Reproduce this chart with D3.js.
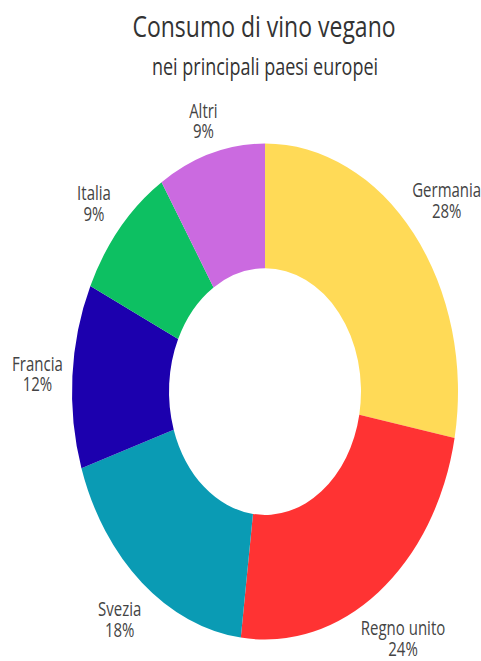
<!DOCTYPE html>
<html>
<head>
<meta charset="utf-8">
<script src="https://cdn.jsdelivr.net/npm/d3@7"></script>
<style>
  body { margin: 0; background: #fff; }
  svg { display: block; }
</style>
</head>
<body>
<div id="donut"></div>
<script>
const countries = ["Germania", "Regno unito", "Svezia", "Francia", "Italia", "Altri"];
const shares = [28, 24, 18, 12, 9, 9];
const palette = ["#FFDA57", "#FF3333", "#0A9BB4", "#1C00AE", "#0DC062", "#CB6AE0"];

const W = 481, H = 661;
// the reference is stretched vertically, so the whole drawing is scaled on y
const sy = 1.285;
const cx = 265, cy = 304.7,
    outerR = 193, innerR = 96, labelR = 228;

// small hand nudges for the outside labels (unscaled px)
const nudge = {
    "Germania": [6, -3],
    "Regno unito": [4, 8],
    "Svezia": [0, 2],
    "Francia": [0, 1],
    "Italia": [0, 5],
    "Altri": [2, 9]
};

const data = countries.map((c, i) => ({ name: c, value: shares[i], color: palette[i] }));

const svg = d3.select("#donut")
    .append("svg")
    .attr("width", W)
    .attr("height", H);

const g = svg.append("g")
    .attr("transform", `scale(1,${sy})`)
    .style("font-family", "'Open Sans', sans-serif");

g.append("text")
    .attr("x", 264)
    .attr("y", 29)
    .attr("text-anchor", "middle")
    .attr("fill", "#333")
    .style("font-size", "23px")
    .text("Consumo di vino vegano");

g.append("text")
    .attr("x", 265)
    .attr("y", 58)
    .attr("text-anchor", "middle")
    .attr("fill", "#333")
    .style("font-size", "18px")
    .text("nei principali paesi europei");

const pie = d3.pie().value(d => d.value).sort(null);
const arc = d3.arc().innerRadius(innerR).outerRadius(outerR);
const arcs = pie(data);

const chart = g.append("g")
    .attr("transform", `translate(${cx},${cy})`);

chart.selectAll("path")
    .data(arcs)
    .enter()
    .append("path")
    .attr("d", arc)
    .attr("fill", d => d.data.color);

const labels = chart.selectAll(".lbl")
    .data(arcs)
    .enter()
    .append("text")
    .attr("class", "lbl")
    .attr("text-anchor", "middle")
    .attr("fill", "#444")
    .style("font-size", "15px")
    .attr("transform", d => {
        const a = (d.startAngle + d.endAngle) / 2;
        const n = nudge[d.data.name] || [0, 0];
        return `translate(${labelR * Math.sin(a) + n[0]},${-labelR * Math.cos(a) + n[1]})`;
    });

labels.append("tspan")
    .attr("x", 0)
    .attr("y", -3)
    .text(d => d.data.name);

labels.append("tspan")
    .attr("x", 0)
    .attr("y", 13)
    .text(d => d.data.value + "%");
</script>
</body>
</html>
